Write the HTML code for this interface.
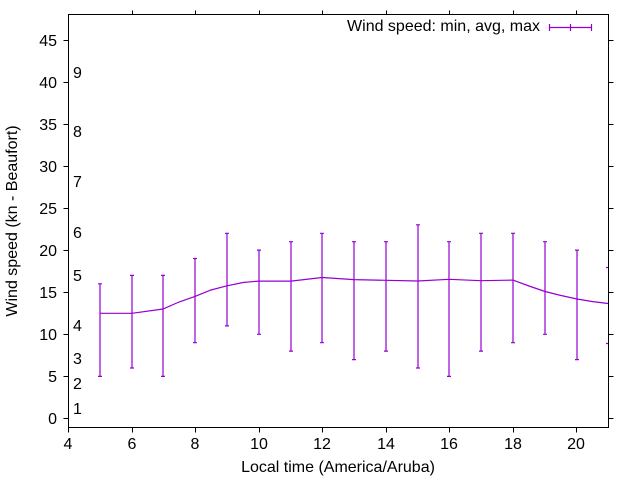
<!DOCTYPE html>
<html><head><meta charset="utf-8"><style>body{margin:0;background:#fff}svg{display:block}text{font-family:"Liberation Sans",sans-serif;font-size:16px;fill:#000}</style></head><body>
<svg width="640" height="480" viewBox="0 0 640 480">
<g stroke="#000" stroke-width="1" fill="none">
<rect x="68.5" y="14.5" width="540" height="413"/>
<path d="M68.5 418.5h-5M68.5 376.5h-5M68.5 334.5h-5M68.5 292.5h-5M68.5 250.5h-5M68.5 208.5h-5M68.5 166.5h-5M68.5 124.5h-5M68.5 82.5h-5M68.5 40.5h-5
M608.5 418.5h5M608.5 376.5h5M608.5 334.5h5M608.5 292.5h5M608.5 250.5h5M608.5 208.5h5M608.5 166.5h5M608.5 124.5h5M608.5 82.5h5M608.5 40.5h5
M68.5 427.5v5M132.5 427.5v5M195.5 427.5v5M259.5 427.5v5M322.5 427.5v5M386.5 427.5v5M449.5 427.5v5M513.5 427.5v5M576.5 427.5v5
M132.5 14.5v-4M195.5 14.5v-4M259.5 14.5v-4M322.5 14.5v-4M386.5 14.5v-4M449.5 14.5v-4M513.5 14.5v-4M576.5 14.5v-4"/>
</g>
<g text-anchor="end">
<text x="57" y="424">0</text><text x="57" y="382">5</text><text x="57" y="340">10</text><text x="57" y="298">15</text><text x="57" y="256">20</text><text x="57" y="214">25</text><text x="57" y="172">30</text><text x="57" y="130">35</text><text x="57" y="88">40</text><text x="57" y="46">45</text>
</g>
<g>
<text x="73" y="414">1</text><text x="73" y="389">2</text><text x="73" y="364">3</text><text x="73" y="331">4</text><text x="73" y="281">5</text><text x="73" y="238">6</text><text x="73" y="187">7</text><text x="73" y="137">8</text><text x="73" y="78">9</text>
</g>
<g text-anchor="middle">
<text x="68" y="449">4</text><text x="132" y="449">6</text><text x="195" y="449">8</text><text x="259" y="449">10</text><text x="322" y="449">12</text><text x="386" y="449">14</text><text x="449" y="449">16</text><text x="513" y="449">18</text><text x="576" y="449">20</text>
<text x="338" y="472">Local time (America/Aruba)</text>
<text transform="translate(17 221) rotate(-90)">Wind speed (kn - Beaufort)</text>
</g>
<text x="540" y="31" text-anchor="end">Wind speed: min, avg, max</text>
<g stroke="#9400d3" stroke-width="1.2" fill="none">
<path d="M549.5 27.5h42M549.5 24v7M591.5 24v7M570.5 24v7"/>
<path d="M100 376.4V283.8M98 376.4h4M98 283.8h4
M132 368V275.4M130 368h4M130 275.4h4
M163 376.4V275.4M161 376.4h4M161 275.4h4
M195 342.7V258.5M193 342.7h4M193 258.5h4
M227 325.9V233.3M225 325.9h4M225 233.3h4
M259 334.3V250.1M257 334.3h4M257 250.1h4
M291 351.1V241.7M289 351.1h4M289 241.7h4
M322 342.7V233.3M320 342.7h4M320 233.3h4
M354 359.6V241.7M352 359.6h4M352 241.7h4
M386 351.1V241.7M384 351.1h4M384 241.7h4
M418 368V224.8M416 368h4M416 224.8h4
M449 376.4V241.7M447 376.4h4M447 241.7h4
M481 351.1V233.3M479 351.1h4M479 233.3h4
M513 342.7V233.3M511 342.7h4M511 233.3h4
M545 334.3V241.7M543 334.3h4M543 241.7h4
M577 359.6V250.1M575 359.6h4M575 250.1h4
M606 343.5h2M606 267.5h2"/>
<polyline points="100,313.3 132,313.3 163,309 179,302 195,296.4 211,290 227,285.8 243,282.5 259,281.1 291,281.1 322,277.5 354,279.6 386,280.3 418,281 449,279.3 481,280.7 513,280.1 529,286 545,291.5 561,295.5 577,299 592,301.5 608,303.5"/>
</g>
</svg>
</body></html>
